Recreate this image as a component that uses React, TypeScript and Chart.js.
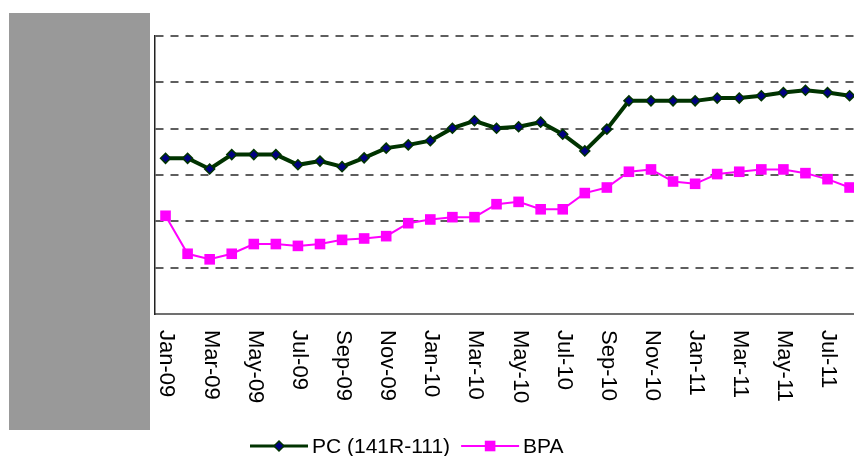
import React, { useEffect, useRef } from "react";
import { Chart, registerables } from "chart.js";

Chart.register(...registerables);

const months = [
  "Jan-09", "Feb-09", "Mar-09", "Apr-09", "May-09", "Jun-09", "Jul-09", "Aug-09",
  "Sep-09", "Oct-09", "Nov-09", "Dec-09", "Jan-10", "Feb-10", "Mar-10", "Apr-10",
  "May-10", "Jun-10", "Jul-10", "Aug-10", "Sep-10", "Oct-10", "Nov-10", "Dec-10",
  "Jan-11", "Feb-11", "Mar-11", "Apr-11", "May-11", "Jun-11", "Jul-11", "Aug-11",
];

const seriesNames = ["PC (141R-111)", "BPA"];

const pcValues = [
  3.36, 3.36, 3.13, 3.44, 3.44, 3.44, 3.22, 3.30, 3.18, 3.37, 3.58, 3.65, 3.74, 4.01, 4.17, 4.01,
  4.04, 4.14, 3.88, 3.52, 3.99, 4.60, 4.60, 4.60, 4.60, 4.66, 4.66, 4.71, 4.78, 4.83, 4.78, 4.71,
];

const bpaValues = [
  2.12, 1.30, 1.18, 1.30, 1.51, 1.51, 1.47, 1.51, 1.60, 1.63, 1.68, 1.96, 2.04, 2.09, 2.09, 2.37,
  2.42, 2.26, 2.26, 2.61, 2.73, 3.07, 3.12, 2.86, 2.81, 3.02, 3.07, 3.12, 3.12, 3.04, 2.91, 2.73,
];

const AXIS_FONT = "22px 'Liberation Sans', Arial, sans-serif";
const LEGEND_FONT = "21px 'Liberation Sans', Arial, sans-serif";

function drawMarker(ctx: CanvasRenderingContext2D, style: string, x: number, y: number, r: number, fill: string, stroke: string, bw: number) {
  ctx.beginPath();
  if (style === "rectRot") {
    ctx.moveTo(x, y - r);
    ctx.lineTo(x + r, y);
    ctx.lineTo(x, y + r);
    ctx.lineTo(x - r, y);
    ctx.closePath();
  } else {
    const s = Math.SQRT1_2 * r;
    ctx.rect(x - s, y - s, 2 * s, 2 * s);
  }
  ctx.fillStyle = fill;
  ctx.fill();
  if (bw > 0) {
    ctx.lineWidth = bw;
    ctx.strokeStyle = stroke;
    ctx.stroke();
  }
}

const decorPlugin = {
  id: "decor",
  beforeDraw(chart: any) {
    const ctx = chart.ctx;
    ctx.save();
    ctx.fillStyle = "#999999";
    ctx.fillRect(9, 13, 141, 417);
    ctx.restore();
  },
  afterDraw(chart: any) {
    const ctx: CanvasRenderingContext2D = chart.ctx;
    const xs = chart.scales.x;
    const area = chart.chartArea;
    ctx.save();
    ctx.font = AXIS_FONT;
    ctx.fillStyle = "#000000";
    ctx.textAlign = "left";
    ctx.textBaseline = "middle";
    months.forEach((m, i) => {
      if (i % 2 !== 0) return;
      const px = xs.getPixelForValue(i);
      ctx.save();
      ctx.translate(px + 1, area.bottom + 16);
      ctx.rotate(Math.PI / 2);
      ctx.fillText(m, 0, 0);
      ctx.restore();
    });

    // legend
    ctx.font = LEGEND_FONT;
    let lx = 250;
    const ly = 446;
    chart.data.datasets.forEach((ds: any, i: number) => {
      const lineLen = 58;
      ctx.save();
      ctx.strokeStyle = ds.borderColor;
      ctx.lineWidth = i === 0 ? 3 : 2;
      ctx.beginPath();
      ctx.moveTo(lx, ly);
      ctx.lineTo(lx + lineLen, ly);
      ctx.stroke();
      drawMarker(ctx, ds.pointStyle, lx + lineLen / 2, ly, ds.pointRadius, ds.pointBackgroundColor, ds.pointBorderColor, ds.pointBorderWidth);
      ctx.restore();
      ctx.fillStyle = "#000000";
      ctx.textBaseline = "middle";
      ctx.fillText(ds.label, lx + lineLen + 4, ly + 1);
      lx += lineLen + 4 + ctx.measureText(ds.label).width + 11;
    });
    ctx.restore();
  },
};

export default function App() {
  const ref = useRef<HTMLCanvasElement | null>(null);
  useEffect(() => {
    document.documentElement.style.overflow = "hidden";
    document.body.style.margin = "0";
    const canvas = ref.current;
    if (!canvas) return;
    const chart = new Chart(canvas, {
      type: "line",
      data: {
        datasets: [
          {
            label: seriesNames[0],
            data: pcValues.map((v, i) => ({ x: i, y: v })),
            borderColor: "#003300",
            borderWidth: 4,
            pointStyle: "rectRot",
            pointRadius: 5,
            pointHoverRadius: 5,
            pointBackgroundColor: "#000080",
            pointBorderColor: "#003300",
            pointBorderWidth: 1.5,
            tension: 0,
            clip: false,
          } as any,
          {
            label: seriesNames[1],
            data: bpaValues.map((v, i) => ({ x: i, y: v })),
            borderColor: "#ff00ff",
            borderWidth: 2,
            pointStyle: "rect",
            pointRadius: 7.5,
            pointHoverRadius: 7.5,
            pointBackgroundColor: "#ff00ff",
            pointBorderColor: "#ff00ff",
            pointBorderWidth: 0,
            tension: 0,
            clip: false,
          } as any,
        ],
      },
      options: {
        animation: false,
        responsive: false,
        events: [],
        layout: { padding: { left: 154.5, top: 36, right: 0, bottom: 0 }, autoPadding: false } as any,
        plugins: { legend: { display: false }, tooltip: { enabled: false } },
        scales: {
          x: {
            type: "linear",
            min: -0.5,
            max: 31.2,
            grid: { display: false, drawTicks: false },
            ticks: { display: false },
            border: { display: true, color: "#707070", width: 2 },
            afterFit: (s: any) => {
              s.height = 142;
            },
          },
          y: {
            min: 0,
            max: 6,
            ticks: { display: false, stepSize: 1 },
            grid: {
              drawTicks: false,
              lineWidth: 2,
              color: (c: any) => (c.tick && c.tick.value === 0 ? "rgba(0,0,0,0)" : "#5e5e5e"),
            },
            border: { display: true, color: "#222222", width: 1.5, dash: [8, 7] },
            afterFit: (s: any) => {
              s.width = 0;
            },
          },
        },
      } as any,
      plugins: [decorPlugin],
    });
    return () => chart.destroy();
  }, []);
  return (
    <div style={{ width: 854, height: 456 }}>
      <canvas ref={ref} width={854} height={456} style={{ display: "block" }} />
    </div>
  );
}
